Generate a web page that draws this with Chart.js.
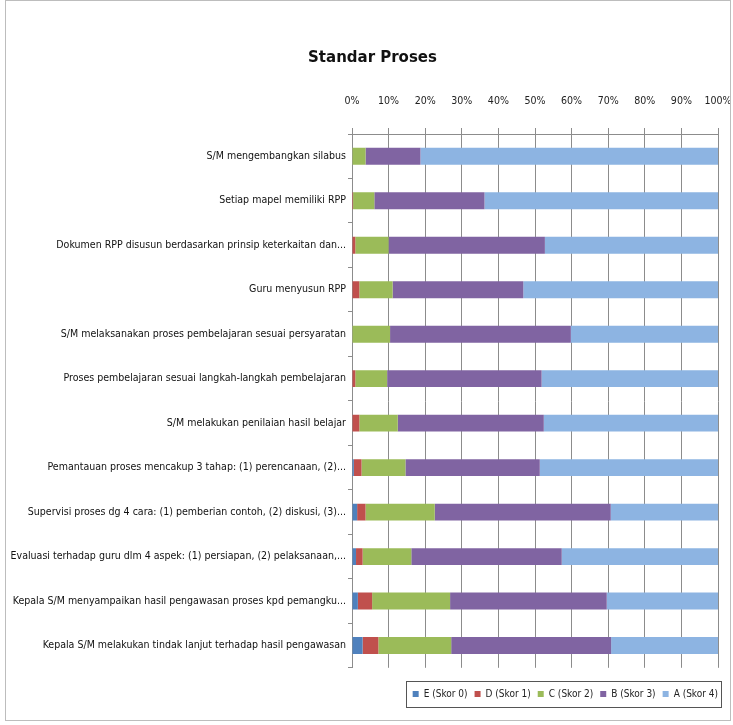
<!DOCTYPE html>
<html>
<head>
<meta charset="utf-8">
<script src="https://cdn.jsdelivr.net/npm/chart.js@4"></script>
<style>
  body { margin: 0; background: #fff; }
  #wrap { position: relative; width: 733px; height: 725px; }
</style>
</head>
<body>
<div id="wrap"><canvas id="chart" width="733" height="725"></canvas></div>
<script>
const kategori = [
  'S/M mengembangkan silabus',
  'Setiap mapel memiliki RPP',
  'Dokumen RPP disusun berdasarkan prinsip keterkaitan dan...',
  'Guru menyusun RPP',
  'S/M melaksanakan proses pembelajaran sesuai persyaratan',
  'Proses pembelajaran sesuai langkah-langkah pembelajaran',
  'S/M melakukan penilaian hasil belajar',
  'Pemantauan proses mencakup 3 tahap: (1) perencanaan, (2)...',
  'Supervisi proses dg 4 cara: (1) pemberian contoh, (2) diskusi, (3)...',
  'Evaluasi terhadap guru dlm 4 aspek: (1) persiapan, (2) pelaksanaan,...',
  'Kepala S/M menyampaikan hasil pengawasan proses kpd pemangku...',
  'Kepala S/M melakukan tindak lanjut terhadap hasil pengawasan'
];

// persentase per skor
const skorE = [0, 0, 0, 0, 0, 0, 0, 0.5, 1.4, 1.1, 1.6, 2.9];
const skorD = [0, 0.3, 0.9, 2.0, 0, 0.9, 2.0, 2.1, 2.3, 1.8, 3.9, 4.3];
const skorC = [3.7, 5.8, 9.1, 9.1, 10.4, 8.7, 10.5, 12.0, 18.9, 13.3, 21.3, 19.9];
const skorB = [15.0, 30.1, 42.7, 35.7, 49.4, 42.2, 39.9, 36.7, 48.1, 41.1, 42.8, 43.7];
const skorA = [81.3, 63.8, 47.3, 53.2, 40.2, 48.2, 47.6, 48.7, 29.3, 42.7, 30.4, 29.2];

const namaSeri = ['E (Skor 0)', 'D (Skor 1)', 'C (Skor 2)', 'B (Skor 3)', 'A (Skor 4)'];
const warna = ['#4F81BD', '#C0504D', '#9BBB59', '#8064A2', '#8DB4E2'];

// cari font sempit yang terpasang (mirip Calibri)
const uji = document.createElement('canvas').getContext('2d');
function lebar(font, teks) { uji.font = font; return uji.measureText(teks).width; }
const calon = ['Liberation Sans Narrow', 'DejaVu Sans Condensed', 'Roboto Condensed', 'Roboto'];
let namaFont = 'Roboto';
for (const f of calon) {
  const t = 'mmmmwwwwiiil S/M 0123';
  if (lebar(`40px "${f}", monospace`, t) !== lebar('40px monospace', t)) { namaFont = f; break; }
}
const FONT = `"${namaFont}", "Open Sans", sans-serif`;
// ukuran label supaya label terpanjang muat (~336px seperti di gambar)
const panjang = Math.max(...kategori.map(k => lebar(`12px ${FONT}`, k)));
const ukuranLabel = Math.max(9, Math.min(12, 12 * 336 / panjang));
const ukuranJudul = Math.max(16, Math.min(22, 21 * 129 / lebar(`bold 21px ${FONT}`, 'Standar Proses')));

// kotak legenda + bingkai luar, judul digeser sedikit ke kanan
const bingkai = {
  id: 'bingkai',
  afterLayout(chart) {
    chart.titleBlock.left += 14;
  },
  afterDraw(chart) {
    const ctx = chart.ctx;
    ctx.save();
    ctx.strokeStyle = '#bdbdbd';
    ctx.lineWidth = 1;
    ctx.strokeRect(5.5, 0.5, 725, 720);
    const items = chart.legend.legendHitBoxes;
    if (items && items.length) {
      const l = Math.min(...items.map(h => h.left)) - 7;
      const r = Math.max(...items.map(h => h.left + h.width)) + 3;
      const t = Math.min(...items.map(h => h.top)) - 8;
      const b = Math.max(...items.map(h => h.top + h.height)) + 8;
      ctx.strokeStyle = '#555';
      ctx.strokeRect(Math.round(l) + 0.5, Math.round(t) + 0.5, Math.round(r - l), Math.round(b - t));
    }
    ctx.restore();
  }
};

const ctx = document.getElementById('chart').getContext('2d');
new Chart(ctx, {
  type: 'bar',
  data: {
    labels: kategori,
    datasets: [skorE, skorD, skorC, skorB, skorA].map((d, i) => ({
      label: namaSeri[i],
      data: d,
      backgroundColor: warna[i],
      borderWidth: 0,
      barPercentage: 0.38,
      categoryPercentage: 1
    }))
  },
  options: {
    indexAxis: 'y',
    responsive: false,
    animation: false,
    layout: { padding: { left: 6, right: 8, top: 0, bottom: 16 } },
    plugins: {
      title: {
        display: true,
        text: 'Standar Proses',
        color: '#111',
        font: { family: FONT, size: ukuranJudul, weight: 'bold' },
        padding: { top: 48, bottom: 10 }
      },
      legend: {
        position: 'bottom',
        align: 'end',
        title: { display: true, text: ' ', font: { size: 1 }, padding: { top: 13, bottom: 0 } },
        labels: {
          color: '#222',
          font: { family: FONT, size: 10 },
          boxWidth: 6,
          boxHeight: 6,
          padding: 7
        }
      },
      tooltip: { enabled: false }
    },
    scales: {
      x: {
        position: 'top',
        stacked: true,
        min: 0,
        max: 100,
        ticks: {
          stepSize: 10,
          color: '#222',
          padding: 20,
          font: { family: FONT, size: ukuranLabel },
          callback: v => v + '%'
        },
        grid: { color: '#8c8c8c', tickLength: 6 },
        border: { color: '#8c8c8c' },
        afterFit: s => { s.height = 56; s.paddingRight = 15; s.paddingLeft = 0; }
      },
      y: {
        stacked: true,
        ticks: {
          color: '#111',
          font: { family: FONT, size: ukuranLabel },
          padding: 2
        },
        grid: { offset: true, drawOnChartArea: false, color: '#8c8c8c', tickLength: 4 },
        border: { color: '#8c8c8c' },
        afterFit: s => { s.width = 346; }
      }
    }
  },
  plugins: [bingkai]
});
</script>
</body>
</html>
